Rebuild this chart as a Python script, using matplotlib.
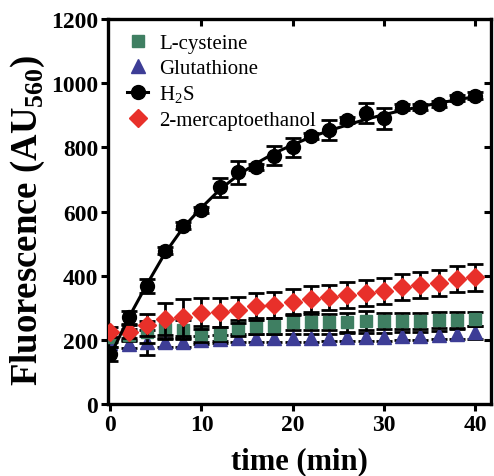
import numpy as np
import matplotlib
matplotlib.use("Agg")
import matplotlib.pyplot as plt
from matplotlib.lines import Line2D

plt.rcParams['font.family'] = 'Liberation Serif'
plt.rcParams['mathtext.fontset'] = 'custom'
plt.rcParams['mathtext.rm'] = 'Liberation Serif'
plt.rcParams['mathtext.bf'] = 'Liberation Serif:bold'

time = [0, 2, 4, 6, 8, 10, 12, 14, 16, 18, 20, 22, 24, 26, 28, 30, 32, 34, 36, 38, 40]

cys = [208, 215, 224, 234, 232, 218, 218, 236, 244, 244, 255, 255, 256, 255, 260, 260, 260, 260, 262, 262, 265]
cys_err = [15, 20, 35, 30, 30, 25, 22, 25, 25, 25, 25, 25, 25, 30, 30, 25, 25, 25, 25, 25, 22]

gsh = [190, 187, 192, 192, 192, 200, 203, 205, 205, 205, 206, 206, 207, 208, 208, 208, 212, 212, 215, 218, 223]
gsh_err = [12, 12, 38, 15, 15, 12, 12, 12, 12, 12, 12, 12, 12, 12, 12, 12, 12, 12, 12, 15, 20]

h2s = [156, 270, 369, 478, 556, 605, 675, 722, 738, 774, 800, 836, 854, 886, 907, 891, 925, 925, 935, 953, 961]
h2s_err = [22, 20, 22, 10, 10, 10, 30, 35, 10, 30, 30, 10, 30, 10, 30, 33, 10, 10, 10, 10, 10]
h2s_fit = [150, 268, 372, 470, 550, 612, 668, 713, 750, 782, 808, 832, 852, 870, 887, 902, 915, 927, 938, 948, 958]

bme = [225, 225, 247, 265, 270, 283, 286, 293, 304, 309, 317, 327, 332, 340, 345, 353, 364, 371, 377, 390, 395]
bme_err = [15, 20, 35, 50, 58, 48, 45, 42, 42, 40, 40, 40, 40, 40, 40, 40, 40, 40, 40, 40, 42]

c_cys = '#3f7f62'
c_gsh = '#3d3d96'
c_bme = '#e8302a'

fig = plt.figure(figsize=(4.94, 4.77), dpi=100)
ax = fig.add_axes([0.2186, 0.151, 0.7753, 0.807])

eb = dict(ecolor='black', elinewidth=2, capsize=5.5, capthick=2, linestyle='none')

ax.errorbar(time, gsh, yerr=gsh_err, marker='^', ms=10, color=c_gsh, mec=c_gsh, zorder=2, **eb)
ax.errorbar(time, cys, yerr=cys_err, marker='s', ms=9, color=c_cys, mec=c_cys, zorder=3, **eb)
ax.errorbar(time, bme, yerr=bme_err, marker='D', ms=9, color=c_bme, mec=c_bme, zorder=4, **eb)
ax.plot(time, h2s_fit, color='black', lw=2.2, zorder=5)
ax.errorbar(time, h2s, yerr=h2s_err, marker='o', ms=10, color='black', zorder=6, **eb)

handles = [
    Line2D([], [], ls='none', marker='s', ms=9, color=c_cys),
    Line2D([], [], ls='none', marker='^', ms=10, color=c_gsh),
    Line2D([], [], color='black', lw=2.2, marker='o', ms=10),
    Line2D([], [], ls='none', marker='D', ms=9, color=c_bme),
]
ax.legend(handles, ['L-cysteine', 'Glutathione', 'H$_2$S', '2-mercaptoethanol'],
          loc='upper left', bbox_to_anchor=(0.05, 0.962), frameon=False,
          fontsize=15, handlelength=1.0, handletextpad=0.55, labelspacing=0.26,
          borderpad=0, borderaxespad=0)

ax.set_xlim(-0.25, 41.75)
ax.set_ylim(0, 1200)
ax.set_xticks([0, 10, 20, 30, 40])
ax.set_yticks([0, 200, 400, 600, 800, 1000, 1200])

for s in ax.spines.values():
    s.set_linewidth(2.4)
ax.tick_params(direction='out', length=5, width=2.2, labelsize=17, pad=2)
for t in ax.get_xticklabels() + ax.get_yticklabels():
    t.set_fontweight('bold')

top = ax.secondary_xaxis('top')
top.set_xticks([10, 20, 30, 40])
top.tick_params(direction='in', length=5, width=2.2, labeltop=False)
right = ax.secondary_yaxis('right')
right.set_yticks([200, 400, 600, 800, 1000])
right.tick_params(direction='in', length=5, width=2.2, labelright=False)

ax.set_xlabel('time (min)', fontsize=22, fontweight='bold', labelpad=8)
ax.set_ylabel(r'Fluorescence (AU$_{\mathbf{560}}$)', fontsize=26.5, fontweight='bold')
ax.yaxis.set_label_coords(-0.16, 0.48)

fig.savefig('out.png', dpi=100)
